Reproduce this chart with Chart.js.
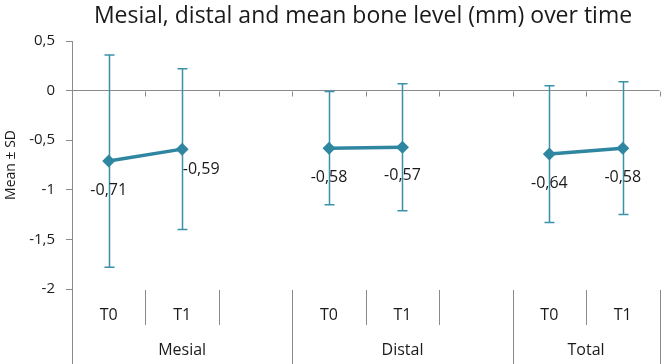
<!DOCTYPE html>
<html><head><meta charset="utf-8">
<script src="https://cdn.jsdelivr.net/npm/chart.js@4.4.1/dist/chart.umd.min.js"></script>
<style>html,body{margin:0;padding:0;background:#fff}#wrap{width:666px;height:364px;position:relative}</style>
</head><body><div id="wrap"><canvas id="c"></canvas></div>
<script>
// ---- data ----
const categories = ['T0', 'T1', '', 'T0', 'T1', '', 'T0', 'T1'];
const groupNames = ['Mesial', 'Distal', 'Total'];
const groupSizes = [3, 3, 2];
const meanValues = [-0.71, -0.59, null, -0.58, -0.57, null, -0.64, -0.58];
const sdValues = [1.07, 0.81, null, 0.57, 0.64, null, 0.69, 0.67];
const yTickValues = [0.5, 0, -0.5, -1, -1.5, -2];
const chartTitle = 'Mesial, distal and mean bone level (mm) over time';
const yAxisTitle = 'Mean ± SD';

// ---- styles ----
const teal = '#2E86A0';
const errColor = '#3B91AA';
const axisGray = '#8A8A8A';
const textColor = '#1A1A1A';
const FONT = 'Open Sans';
const labelOffsets = [[0, 29], [19, 20], null, [0, 29], [0, 28], null, [0, 29], [0, 29]];

const fmt = v => String(v).replace('.', ',');

function slotEdges(x) {
  const n = categories.length;
  const p = i => x.getPixelForValue(i);
  const half = (p(1) - p(0)) / 2;
  const edges = [p(0) - half];
  for (let i = 0; i < n; i++) edges.push(p(i) + half);
  return edges;
}

const decor = {
  id: 'decor',
  beforeDatasetsDraw(chart) {
    const { ctx, scales: { x, y } } = chart;
    ctx.save();
    const y0 = Math.round(y.getPixelForValue(0)) + 0.5;
    ctx.strokeStyle = axisGray; ctx.lineWidth = 1;
    const edges = slotEdges(x);
    edges.slice(1).forEach(e => {
      const xe = Math.round(e) + 0.5;
      ctx.beginPath(); ctx.moveTo(xe, y0); ctx.lineTo(xe, y0 + 5); ctx.stroke();
    });
    ctx.strokeStyle = errColor; ctx.lineWidth = 1.5;
    meanValues.forEach((m, i) => {
      if (m === null) return;
      const px = Math.round(x.getPixelForValue(i)) + 0.5;
      const t = y.getPixelForValue(m + sdValues[i]);
      const b = y.getPixelForValue(m - sdValues[i]);
      ctx.beginPath();
      ctx.moveTo(px, t); ctx.lineTo(px, b);
      ctx.moveTo(px - 5, t); ctx.lineTo(px + 5, t);
      ctx.moveTo(px - 5, b); ctx.lineTo(px + 5, b);
      ctx.stroke();
    });
    ctx.restore();
  },
  afterDraw(chart) {
    const { ctx, scales: { x, y }, chartArea: a } = chart;
    ctx.save();
    ctx.fillStyle = textColor;
    ctx.font = '16px "' + FONT + '"';
    ctx.textAlign = 'center'; ctx.textBaseline = 'middle';
    meanValues.forEach((m, i) => {
      if (m === null) return;
      const o = labelOffsets[i];
      ctx.fillText(fmt(m), x.getPixelForValue(i) + o[0], y.getPixelForValue(m) + o[1]);
    });
    const edges = slotEdges(x);
    const bottom = chart.height;
    const top = a.bottom + 1;
    ctx.strokeStyle = axisGray; ctx.lineWidth = 1;
    const vline = (xx, y1, y2) => {
      const xe = Math.round(xx) + 0.5;
      ctx.beginPath(); ctx.moveTo(xe, y1); ctx.lineTo(xe, y2); ctx.stroke();
    };
    vline(a.left, a.bottom, bottom);
    let k = 0;
    groupSizes.forEach(sz => {
      for (let j = 1; j < sz; j++) vline(edges[k + j], top, top + 35);
      k += sz;
      vline(edges[k], top, bottom);
    });
    ctx.font = '16px "' + FONT + '"';
    categories.forEach((c, i) => {
      if (c) ctx.fillText(c, x.getPixelForValue(i), 315);
    });
    k = 0;
    groupNames.forEach((g, gi) => {
      const cx = (edges[k] + edges[k + groupSizes[gi]]) / 2;
      ctx.fillText(g, cx, 350);
      k += groupSizes[gi];
    });
    ctx.font = '23px "' + FONT + '"';
    ctx.fillText(chartTitle, 363, 16);
    ctx.restore();
  }
};

new Chart(document.getElementById('c'), {
  type: 'line',
  data: {
    labels: categories,
    datasets: [{
      data: meanValues,
      borderColor: teal,
      backgroundColor: teal,
      borderWidth: 3.5,
      pointStyle: 'rectRot',
      pointRadius: 6.5,
      pointHoverRadius: 6.5,
      pointBackgroundColor: teal,
      pointBorderColor: teal,
      pointBorderWidth: 0,
      spanGaps: false,
      tension: 0
    }]
  },
  options: {
    responsive: true,
    maintainAspectRatio: false,
    animation: false,
    events: [],
    layout: { padding: { left: 0, right: 4, top: 41, bottom: 75 } },
    plugins: { legend: { display: false }, tooltip: { enabled: false }, title: { display: false } },
    scales: {
      x: { type: 'category', display: false, offset: true },
      y: {
        min: -2, max: 0.5,
        afterFit: s => { s.width = 72; },
        afterBuildTicks: s => { s.ticks = yTickValues.map(v => ({ value: v })); },
        ticks: { callback: v => fmt(v), color: textColor, font: { family: FONT, size: 15 }, padding: 11 },
        border: { display: true, color: axisGray, width: 1 },
        grid: {
          color: c => (c.tick && c.tick.value === 0) ? axisGray : 'rgba(0,0,0,0)',
          tickColor: axisGray, tickLength: 6, drawTicks: true
        },
        title: { display: true, text: yAxisTitle, color: textColor, font: { family: FONT, size: 14 }, padding: { top: 3, bottom: 0 } }
      }
    }
  },
  plugins: [decor]
});
</script>
</body></html>
